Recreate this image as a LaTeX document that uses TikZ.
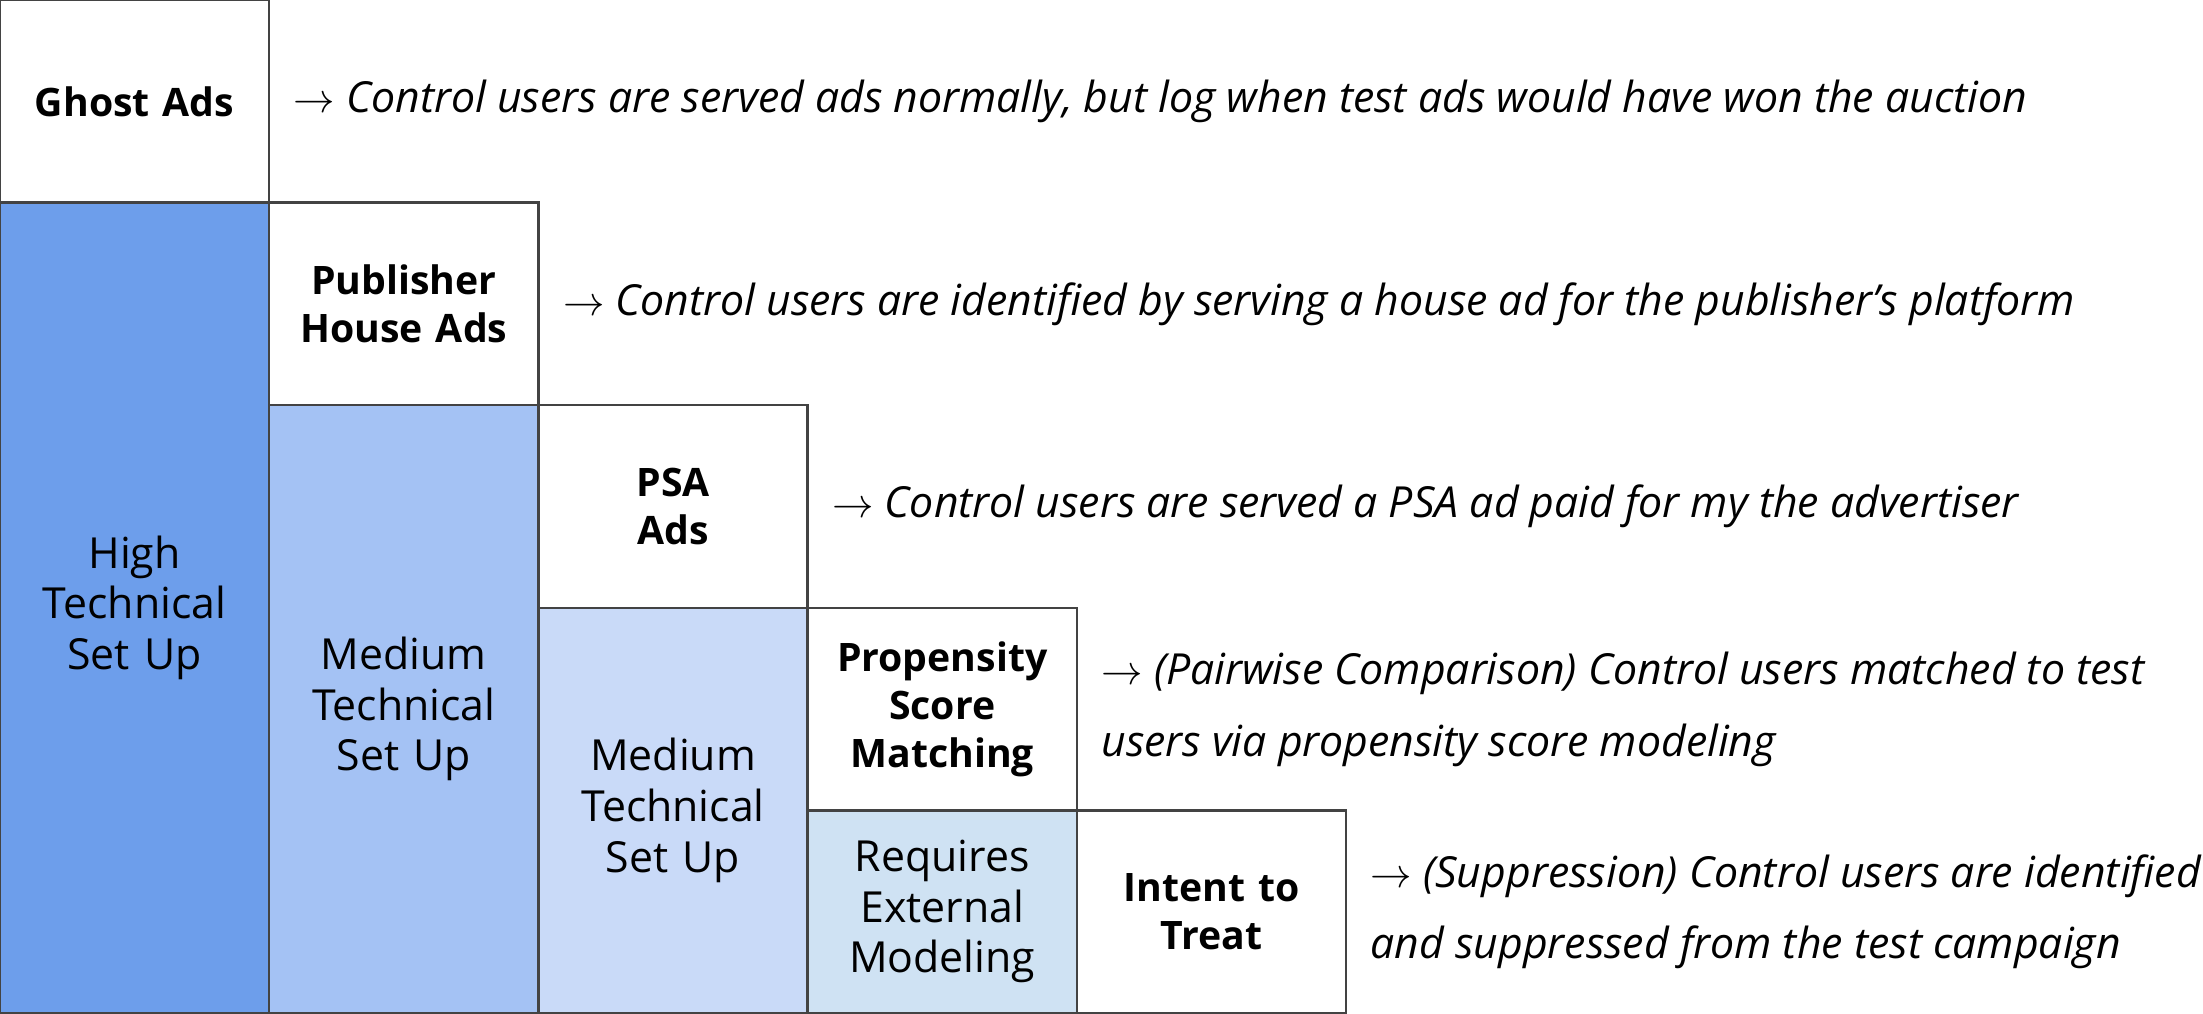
\documentclass[tikz,border=0pt]{standalone}
\usepackage{fontspec}
\setmainfont{Open Sans}
\definecolor{cA}{HTML}{6D9EEB}
\definecolor{cB}{HTML}{A4C2F4}
\definecolor{cC}{HTML}{C9DAF8}
\definecolor{cD}{HTML}{CFE2F3}
\definecolor{edge}{HTML}{434343}
\tikzset{
  box/.style={draw=edge, line width=1.2pt, rectangle, inner sep=0pt,
    minimum width=134.6pt, align=center, text width=125pt},
  lab/.style={box, minimum height=101.3pt,
    font=\fontsize{19.6}{24}\selectfont\bfseries},
  tall/.style={box, font=\fontsize{21.4}{25.3}\selectfont},
  desc/.style={anchor=west, inner sep=0pt, align=left, xshift=11.5pt,
    font=\fontsize{21.4}{35.8}\selectfont\itshape}
}
\begin{document}
\begin{tikzpicture}[x=134.6pt, y=-101.3pt]
\useasboundingbox (0,0) rectangle (8.1835,5);
% tall coloured columns
\node[tall, fill=cA, minimum height=405.2pt] (high) at (0.5,3) {High\\Technical\\Set Up};
\node[tall, fill=cB, minimum height=303.9pt] (med1) at (1.5,3.5) {Medium\\Technical\\Set Up};
\node[tall, fill=cC, minimum height=202.6pt] (med2) at (2.5,4) {Medium\\Technical\\Set Up};
\node[tall, fill=cD, minimum height=101.3pt] (ext) at (3.5,4.5) {Requires\\External\\Modeling};
% method boxes
\node[lab, fill=white] (ghost) at (0.5,0.5) {Ghost Ads};
\node[lab, fill=white] (pub) at (1.5,1.5) {Publisher\\House Ads};
\node[lab, fill=white] (psa) at (2.5,2.5) {PSA\\Ads};
\node[lab, fill=white] (psm) at (3.5,3.5) {Propensity\\Score\\Matching};
\node[lab, fill=white] (itt) at (4.5,4.5) {Intent to\\Treat};
% descriptions
\node[desc] (d0) at (ghost.east) {$\rightarrow$ Control users are served ads normally, but log when test ads would have won the auction};
\node[desc] (d1) at (pub.east) {$\rightarrow$ Control users are identified by serving a house ad for the publisher’s platform};
\node[desc] (d2) at (psa.east) {$\rightarrow$ Control users are served a PSA ad paid for my the advertiser};
\node[desc] (d3) at (psm.east) {$\rightarrow$ (Pairwise Comparison) Control users matched to test\\users via propensity score modeling};
\node[desc] (d4) at (itt.east) {$\rightarrow$ (Suppression) Control users are identified\\and suppressed from the test campaign};
\end{tikzpicture}
\end{document}
